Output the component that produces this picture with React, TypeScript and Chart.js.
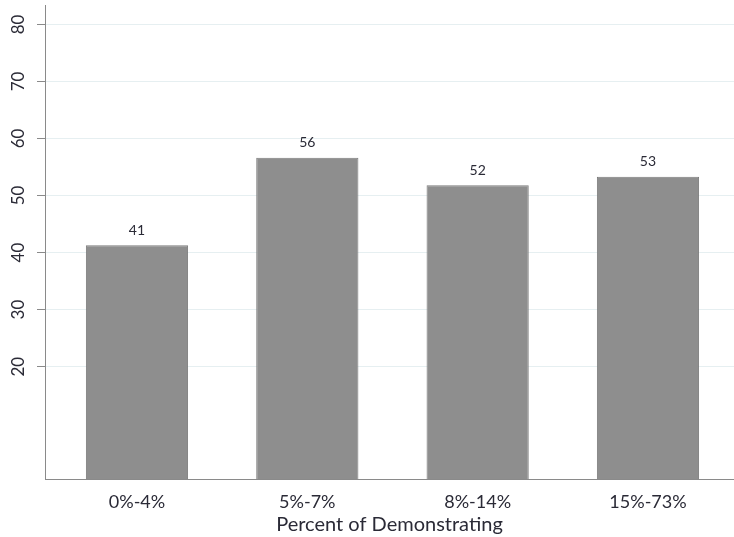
import React, { useEffect, useRef } from "react";
import { Chart, registerables } from "chart.js";

Chart.register(...registerables);

const categories = ["0%-4%", "5%-7%", "8%-14%", "15%-73%"];
const values = [41.3, 56.6, 51.8, 53.3];
const valueLabels = ["41", "56", "52", "53"];
const yTicks = [20, 30, 40, 50, 60, 70, 80];
const xTitle = "Percent of Demonstrating";

const FONT = "Lato, 'Noto Sans', sans-serif";
const TEXT = "#2a2a36";

export default function App() {
  const ref = useRef<HTMLCanvasElement | null>(null);

  useEffect(() => {
    if (!ref.current) return;
    const labelPlugin = {
      id: "extraText",
      afterDraw(chart: any) {
        const ctx = chart.ctx;
        const y = chart.scales.y;
        ctx.save();
        ctx.fillStyle = TEXT;
        ctx.font = `17px ${FONT}`;
        ctx.textAlign = "center";
        ctx.textBaseline = "middle";
        yTicks.forEach((v) => {
          const py = y.getPixelForValue(v);
          ctx.save();
          ctx.translate(19, py);
          ctx.rotate(-Math.PI / 2);
          ctx.fillText(String(v), 0, 0);
          ctx.restore();
        });
        ctx.font = `14px ${FONT}`;
        const meta = chart.getDatasetMeta(0);
        meta.data.forEach((bar: any, i: number) => {
          ctx.fillText(valueLabels[i], bar.x, bar.y - 15);
        });
        ctx.restore();
      },
    };

    const chart = new Chart(ref.current, {
      type: "bar",
      data: {
        datasets: [
          {
            data: values.map((v, i) => ({ x: i, y: v })),
            backgroundColor: "#8e8e8e",
            borderColor: "#7c7c7c",
            borderWidth: 1,
            barPercentage: 0.6,
            categoryPercentage: 1,
          },
        ],
      },
      options: {
        animation: false,
        responsive: true,
        maintainAspectRatio: false,
        layout: { padding: { top: 5, right: 0, left: 0, bottom: 0 } },
        plugins: { legend: { display: false }, tooltip: { enabled: false } },
        scales: {
          x: {
            type: "linear",
            offset: false,
            min: -0.54,
            max: 3.505,
            afterBuildTicks: (s: any) => {
              s.ticks = categories.map((_, i) => ({ value: i }));
            },
            afterFit: (s: any) => {
              s.height = 58;
              s.paddingLeft = 0;
              s.paddingRight = 0;
            },
            grid: { display: false, drawTicks: false },
            border: { color: "#8a8a8a", width: 1 },
            ticks: {
              callback: (v: any) => categories[v] ?? "",
              font: { family: FONT, size: 18 },
              color: TEXT,
              padding: 12,
              maxRotation: 0,
              autoSkip: false,
            },
            title: {
              display: true,
              text: xTitle,
              font: { family: FONT, size: 20 },
              color: TEXT,
              padding: { top: 0, bottom: 0 },
            },
          },
          y: {
            min: 0.3,
            max: 83.4,
            afterBuildTicks: (s: any) => {
              s.ticks = yTicks.map((v) => ({ value: v }));
            },
            afterFit: (s: any) => {
              s.width = 45;
            },
            grid: {
              color: "#e6eff1",
              tickColor: "#8a8a8a",
              tickLength: 8,
              drawTicks: true,
            },
            border: { color: "#8a8a8a", width: 1 },
            ticks: { display: false },
          },
        },
      },
      plugins: [labelPlugin],
    } as any);
    return () => chart.destroy();
  }, []);

  return (
    <div
      style={{
        position: "absolute",
        left: 0,
        top: 0,
        width: 734,
        height: 537,
        background: "#fff",
      }}
    >
      <canvas ref={ref} />
    </div>
  );
}
